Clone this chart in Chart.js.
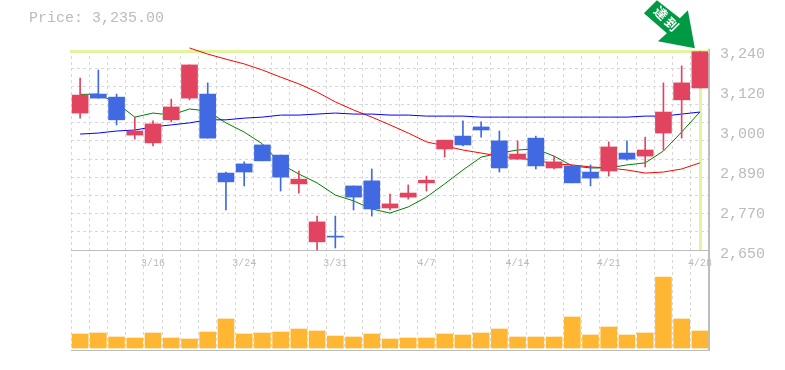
<!DOCTYPE html>
<html><head><meta charset="utf-8">
<style>
html,body{margin:0;padding:0;background:#fff;width:785px;height:370px;overflow:hidden}
#wrap{position:relative;width:785px;height:370px}
#price{position:absolute;left:29px;top:10px;font:15px "Liberation Mono",monospace;color:#bbb;line-height:18px;white-space:pre}
</style>
<script src="https://cdn.jsdelivr.net/npm/chart.js@4"></script>
</head><body>
<div id="wrap"><canvas id="c" width="785" height="370"></canvas><div id="price">Price: 3,235.00</div></div>
<script>
const categories=['3/10','3/11','3/12','3/13','3/16','3/17','3/18','3/19','3/23','3/24','3/25','3/26','3/27','3/30','3/31','4/1','4/2','4/3','4/6','4/7','4/8','4/9','4/10','4/13','4/14','4/15','4/16','4/17','4/20','4/21','4/22','4/23','4/24','4/27','4/28'];
const shownDates=['3/16','3/24','3/31','4/7','4/14','4/21','4/28'];
const openP =[3054,3110,3101,2989,2966,3034,3098,3110,2877,2904,2960,2930,2845,2674,2691,2839,2854,2774,2806,2848,2948,2986,3013,2972,2918,2980,2892,2898,2880,2883,2936,2927,2995,3093,3128];
const highP =[3157,3181,3110,3042,3031,3095,3196,3143,2880,2910,2960,2930,2883,2750,2750,2839,2889,2815,2842,2868,2974,3031,3028,3001,2972,2986,2927,2898,2901,2969,2972,2983,3143,3193,3235];
const lowP  =[3039,3098,3019,2977,2957,3028,3093,2980,2768,2839,2913,2824,2818,2650,2656,2768,2750,2768,2800,2824,2924,2957,2983,2880,2918,2889,2889,2848,2839,2868,2915,2895,2945,2980,3128];
const closeP=[3107,3098,3034,3001,3022,3072,3196,2980,2851,2880,2913,2865,2859,2733,2688,2806,2771,2786,2818,2856,2974,2960,3004,2892,2933,2898,2910,2848,2862,2954,2918,2945,3057,3143,3235];
const maGreen=[3109,3110,3084,3042,3054,3048,3066,3060,3025,2998,2963,2904,2874,2848,2812,2795,2771,2759,2777,2806,2845,2886,2924,2936,2945,2948,2927,2898,2892,2892,2901,2907,2942,2998,3057];
const maBlue=[2992,2995,3001,3004,3013,3019,3025,3034,3034,3039,3042,3048,3048,3051,3054,3051,3051,3048,3048,3045,3045,3045,3042,3042,3042,3042,3042,3042,3042,3042,3042,3045,3045,3051,3057];
const maRed=[null,null,null,null,null,null,3246,3228,3213,3199,3181,3160,3140,3116,3087,3063,3042,3019,2995,2969,2957,2945,2936,2927,2921,2915,2904,2901,2895,2892,2886,2877,2880,2889,2907];
const volume=[140,150,110,100,150,100,90,160,290,140,150,160,190,170,120,110,140,90,100,100,140,130,150,190,110,110,110,310,130,210,130,150,710,290,170];
const priceLabelValues=[3240,3122,3004,2886,2768,2650];
const priceLabelTexts=['3,240','3,120','3,000','2,890','2,770','2,650'];
const gridCount=11, priceMin=2355, priceMax=3240, priceFloor=2650;
const currentPrice=3235;
const GRID='#d8d8d8', FRAME='#bdbdbd', TEXT='#bbbbbb', HILITE='#dff5a0', UP='#e2435f', DOWN='#4169e1';

const isUp=i=>closeP[i]>=openP[i];
const candleColors=categories.map((_,i)=>isUp(i)?UP:DOWN);
const gridValues=[];
for(let k=0;k<=gridCount;k++) gridValues.push(priceFloor+(priceMax-priceFloor)*k/gridCount);

const overlay={
  id:'overlay',
  beforeDatasetsDraw(chart){
    const {ctx,scales:{x,price},chartArea:a}=chart;
    const xx=x.getPixelForValue(categories.length-1);
    ctx.save();
    ctx.fillStyle=HILITE;
    ctx.fillRect(a.left-1,a.top,a.right-a.left+1,3);
    ctx.fillRect(Math.round(xx)-1,a.top,3,price.getPixelForValue(priceFloor)-a.top);
    ctx.restore();
  },
  afterDatasetsDraw(chart){
    const {ctx,scales:{x,price}}=chart;
    const tx=x.getPixelForValue(categories.length-1)-5, ty=price.getPixelForValue(currentPrice)-3.5;
    const pts=[[0,0],[-7,-38],[-15,-30],[-38,-48],[-51,-35],[-28,-15],[-37,-7]];
    ctx.save();
    ctx.fillStyle='#009944';
    ctx.beginPath();
    pts.forEach((p,i)=>i?ctx.lineTo(tx+p[0],ty+p[1]):ctx.moveTo(tx+p[0],ty+p[1]));
    ctx.closePath();ctx.fill();
    ctx.fillStyle='#fff';
    ctx.font='bold 13px "Noto Sans CJK JP",sans-serif';
    ctx.textAlign='center';ctx.textBaseline='middle';
    [['達',-34,-35],['到',-23,-24]].forEach(([s,dx,dy])=>{
      ctx.save();ctx.translate(tx+dx,ty+dy);ctx.rotate(Math.PI/4);ctx.fillText(s,0,0);ctx.restore();
    });
    ctx.restore();
  }
};

const lineDs=(label,data,color)=>({type:'line',label,data,yAxisID:'price',borderColor:color,borderWidth:1,pointRadius:0,tension:0,fill:false,order:3,clip:false,spanGaps:false});
const barBase={type:'bar',yAxisID:'price',grouped:false,borderWidth:0,borderSkipped:false};

new Chart(document.getElementById('c'),{
  data:{labels:categories,datasets:[
    lineDs('MA long',maBlue,'#0000ff'),
    lineDs('MA mid',maRed,'#ff0000'),
    lineDs('MA short',maGreen,'#008000'),
    {...barBase,label:'Range',data:categories.map((_,i)=>[lowP[i],highP[i]]),backgroundColor:candleColors,barThickness:1,order:2},
    {...barBase,label:'Body',data:categories.map((_,i)=>[openP[i],closeP[i]]),backgroundColor:candleColors,barThickness:16,order:1},
    {type:'bar',label:'Volume',yAxisID:'vol',grouped:false,data:volume,backgroundColor:'#ffb733',barThickness:16,borderWidth:0,order:4}
  ]},
  options:{
    responsive:false,animation:false,events:[],
    layout:{padding:{left:71,top:50,right:0,bottom:20}},
    plugins:{legend:{display:false},title:{display:false},tooltip:{enabled:false}},
    scales:{
      x:{type:'category',offset:true,position:{price:priceFloor},
        grid:{offset:true,color:GRID,lineWidth:1,drawTicks:false},
        border:{display:false,dash:[3,3]},
        ticks:{autoSkip:false,maxRotation:0,minRotation:0,padding:7,color:TEXT,font:{family:'"Liberation Mono",monospace',size:10},
          callback(v){const s=this.getLabelForValue(v);return shownDates.includes(s)?s:'';}}},
      price:{type:'linear',position:'right',min:priceMin,max:priceMax,
        afterBuildTicks(s){
          const t=[{value:priceMin,frame:true}];
          gridValues.forEach(v=>t.push({value:v,grid:true,frame:v===priceFloor}));
          priceLabelValues.forEach((v,i)=>{
            const e=t.find(o=>Math.abs(o.value-v)<0.01);
            if(e) e.text=priceLabelTexts[i]; else t.push({value:v,text:priceLabelTexts[i]});
          });
          s.ticks=t.sort((a,b)=>a.value-b.value);
        },
        afterFit(s){s.width=76;},
        grid:{drawTicks:false,lineWidth:1,
          color(c){const t=c.tick;if(!t)return 'transparent';return t.frame?FRAME:(t.grid?GRID:'transparent');}},
        border:{display:true,color:FRAME,width:2,dash(c){return c.tick&&!c.tick.frame?[3,3]:[];}},
        ticks:{autoSkip:false,padding:11,labelOffset:4,color:TEXT,font:{family:'"Liberation Mono",monospace',size:15},
          callback(v,i,ts){return ts[i].text||'';}}},
      vol:{type:'linear',display:false,min:-20,max:2980}
    }
  },
  plugins:[overlay]
});
</script>
</body></html>
